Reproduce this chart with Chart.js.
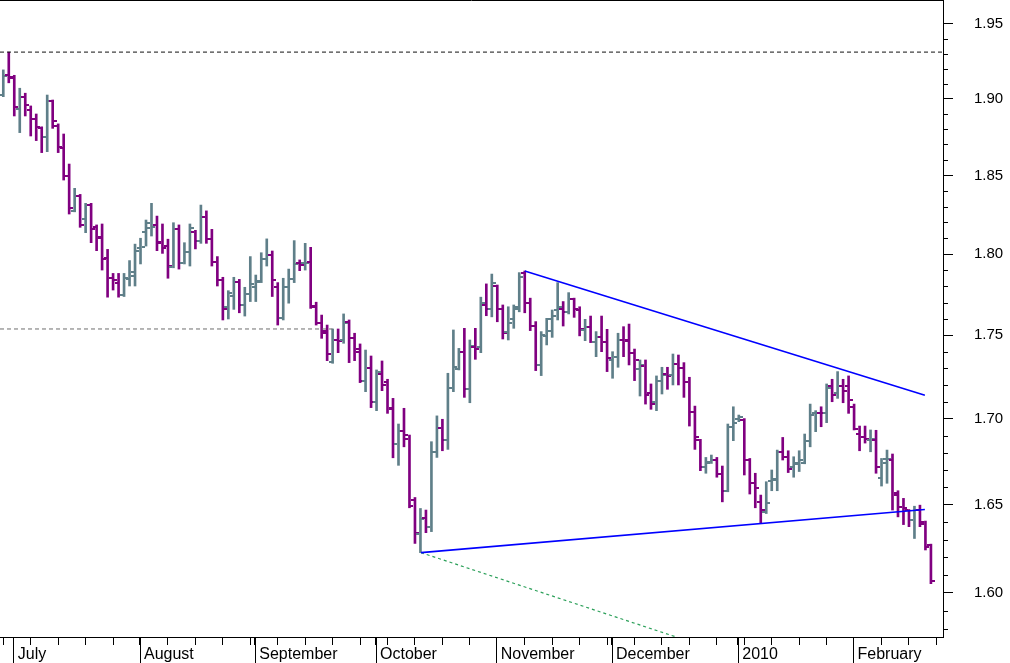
<!DOCTYPE html>
<html>
<head>
<meta charset="utf-8">
<title>OHLC</title>
<script src="https://cdn.jsdelivr.net/npm/chart.js@4.4.1/dist/chart.umd.min.js"></script>
<style>
  html, body { margin: 0; padding: 0; background: #fff; }
  canvas { display: block; }
</style>
</head>
<body>
<canvas id="grafico" width="1010" height="663"></canvas>
<script>
// Daily bars, index 0 = Mon 29 June 2009 (trading days only)
const opens = [1.9024,1.9157,1.9145,1.8930,1.9009,1.8924,1.8865,1.8810,1.8747,1.8985,
  1.8821,1.8675,1.8496,1.8274,1.8370,1.8219,1.8310,1.8169,1.8100,1.7975,
  1.7850,1.7818,1.7746,1.7843,1.7886,1.8040,1.8141,1.8163,1.8184,1.8078,
  1.8051,1.7922,1.8156,1.7947,1.8015,1.8140,1.8085,1.8236,1.8098,1.7951,
  1.7839,1.7671,1.7740,1.7826,1.7685,1.7750,1.7798,1.7835,1.7968,1.7993,
  1.7798,1.7603,1.7794,1.7843,1.7942,1.7943,1.7953,1.7681,1.7576,1.7526,
  1.7340,1.7471,1.7471,1.7578,1.7481,1.7416,1.7226,1.7304,1.7100,1.7266,
  1.7220,1.7055,1.6850,1.6925,1.6878,1.6528,1.6330,1.6425,1.6370,1.6805,
  1.6947,1.6874,1.7180,1.7294,1.7396,1.7174,1.7430,1.7426,1.7685,1.7658,
  1.7802,1.7658,1.7522,1.7597,1.7658,1.7885,1.7696,1.7556,1.7318,1.7496,
  1.7597,1.7654,1.7658,1.7643,1.7721,1.7654,1.7532,1.7548,1.7461,1.7487,
  1.7461,1.7350,1.7366,1.7471,1.7471,1.7394,1.7294,1.7314,1.7150,1.7100,
  1.7224,1.7266,1.7260,1.7326,1.7300,1.7220,1.7041,1.6874,1.6714,1.6747,
  1.6757,1.6676,1.6579,1.6952,1.6998,1.6994,1.6757,1.6622,1.6515,1.6457,
  1.6638,1.6641,1.6805,1.6776,1.6714,1.6737,1.6741,1.6870,1.7031,1.7035,
  1.7035,1.7194,1.7150,1.7194,1.7194,1.7070,1.6909,1.6889,1.6874,1.6874,
  1.6651,1.6737,1.6757,1.6564,1.6487,1.6468,1.6413,1.6471,1.6401,1.6269];
const highs = [1.9191,1.9310,1.9155,1.9069,1.9036,1.8952,1.8899,1.8815,1.9024,1.8991,
  1.8834,1.8768,1.8573,1.8417,1.8378,1.8321,1.8321,1.8184,1.8190,1.8030,
  1.7880,1.7880,1.7880,1.7960,1.8063,1.8100,1.8215,1.8321,1.8240,1.8190,
  1.8094,1.8198,1.8184,1.8072,1.8190,1.8150,1.8310,1.8273,1.8156,1.7985,
  1.7856,1.7773,1.7856,1.7843,1.7794,1.7985,1.7870,1.8009,1.8096,1.8020,
  1.7823,1.7850,1.7907,1.8085,1.7964,1.8068,1.8043,1.7702,1.7623,1.7562,
  1.7538,1.7538,1.7630,1.7593,1.7512,1.7447,1.7410,1.7374,1.7290,1.7344,
  1.7234,1.7120,1.6968,1.7061,1.6903,1.6540,1.6477,1.6468,1.6864,1.7016,
  1.6996,1.7270,1.7532,1.7420,1.7542,1.7471,1.7542,1.7733,1.7815,1.7876,
  1.7808,1.7685,1.7674,1.7685,1.7885,1.7895,1.7727,1.7583,1.7522,1.7603,
  1.7654,1.7823,1.7706,1.7761,1.7727,1.7674,1.7597,1.7617,1.7522,1.7617,
  1.7536,1.7400,1.7512,1.7552,1.7568,1.7416,1.7350,1.7350,1.7206,1.7254,
  1.7306,1.7306,1.7386,1.7380,1.7334,1.7246,1.7074,1.6878,1.6772,1.6786,
  1.6772,1.6722,1.6968,1.7070,1.7021,1.7000,1.6766,1.6680,1.6554,1.6631,
  1.6699,1.6815,1.6889,1.6811,1.6776,1.6811,1.6909,1.7086,1.7047,1.7070,
  1.7206,1.7234,1.7280,1.7234,1.7254,1.7086,1.6956,1.6956,1.6933,1.6931,
  1.6766,1.6815,1.6792,1.6579,1.6535,1.6471,1.6490,1.6496,1.6405,1.6274];
const lows = [1.9013,1.9105,1.8886,1.8777,1.8886,1.8755,1.8725,1.8647,1.8653,1.8805,
  1.8647,1.8470,1.8253,1.8267,1.8169,1.8135,1.8072,1.8022,1.7901,1.7733,
  1.7777,1.7733,1.7737,1.7802,1.7802,1.7939,1.8051,1.8114,1.8022,1.8005,
  1.7850,1.7915,1.7907,1.7939,1.7926,1.8033,1.8068,1.8068,1.7926,1.7802,
  1.7593,1.7599,1.7658,1.7637,1.7617,1.7706,1.7706,1.7823,1.7926,1.7737,
  1.7562,1.7593,1.7696,1.7823,1.7897,1.7901,1.7664,1.7562,1.7481,1.7346,
  1.7330,1.7394,1.7451,1.7334,1.7346,1.7214,1.7160,1.7065,1.7047,1.7166,
  1.7031,1.6770,1.6726,1.6834,1.6481,1.6278,1.6226,1.6339,1.6345,1.6772,
  1.6811,1.6819,1.7160,1.7290,1.7126,1.7094,1.7354,1.7394,1.7619,1.7612,
  1.7582,1.7477,1.7471,1.7542,1.7643,1.7637,1.7528,1.7286,1.7256,1.7441,
  1.7487,1.7593,1.7556,1.7630,1.7609,1.7496,1.7467,1.7455,1.7370,1.7400,
  1.7280,1.7240,1.7306,1.7370,1.7320,1.7226,1.7134,1.7086,1.7055,1.7047,
  1.7146,1.7174,1.7200,1.7200,1.7126,1.6956,1.6819,1.6695,1.6680,1.6737,
  1.6657,1.6515,1.6573,1.6870,1.6982,1.6670,1.6560,1.6481,1.6391,1.6448,
  1.6579,1.6579,1.6757,1.6684,1.6657,1.6690,1.6735,1.6834,1.6923,1.6952,
  1.6976,1.7100,1.7120,1.7094,1.7031,1.6933,1.6811,1.6856,1.6805,1.6680,
  1.6606,1.6622,1.6468,1.6429,1.6385,1.6373,1.6306,1.6373,1.6241,1.6052];
const closes = [1.9151,1.9135,1.8943,1.9009,1.8956,1.8869,1.8812,1.8747,1.8985,1.8854,
  1.8686,1.8496,1.8289,1.8368,1.8184,1.8310,1.8156,1.8110,1.7970,1.7850,
  1.7839,1.7746,1.7850,1.7864,1.8017,1.8046,1.8198,1.8169,1.8072,1.8037,
  1.7926,1.8156,1.7943,1.8015,1.8163,1.8085,1.8236,1.8094,1.7951,1.7839,
  1.7660,1.7756,1.7826,1.7685,1.7750,1.7815,1.7829,1.7968,1.7993,1.7839,
  1.7603,1.7794,1.7845,1.7939,1.7935,1.7947,1.7674,1.7576,1.7516,1.7384,
  1.7471,1.7465,1.7572,1.7481,1.7396,1.7226,1.7304,1.7100,1.7276,1.7198,
  1.7061,1.6850,1.6925,1.6901,1.6490,1.6335,1.6415,1.6373,1.6805,1.6947,
  1.6874,1.7180,1.7310,1.7396,1.7174,1.7436,1.7416,1.7696,1.7658,1.7823,
  1.7658,1.7512,1.7576,1.7674,1.7856,1.7696,1.7556,1.7318,1.7502,1.7528,
  1.7617,1.7674,1.7643,1.7721,1.7658,1.7536,1.7548,1.7461,1.7487,1.7461,
  1.7360,1.7366,1.7471,1.7465,1.7394,1.7350,1.7320,1.7140,1.7086,1.7224,
  1.7260,1.7254,1.7326,1.7300,1.7220,1.7041,1.6893,1.6714,1.6741,1.6757,
  1.6676,1.6579,1.6952,1.6972,1.7008,1.6757,1.6622,1.6593,1.6468,1.6509,
  1.6645,1.6805,1.6776,1.6703,1.6733,1.6757,1.6870,1.7021,1.7035,1.7031,
  1.7180,1.7140,1.7194,1.7166,1.7110,1.6937,1.6893,1.6878,1.6878,1.6714,
  1.6760,1.6760,1.6554,1.6483,1.6477,1.6413,1.6468,1.6391,1.6260,1.6066];

// axis labels
const monthStarts = [2, 25, 46, 68, 90, 111, 134, 155];
const monthLabels = ["July", "August", "September", "October", "November", "December", "2010", "February"];
const weekTicks = [0,5,10,15,20,30,35,40,45,50,55,60,65,70,75,80,85,95,100,105,110,115,120,125,130,135,140,145,150,160,165,170];
const priceTicks = [1.60, 1.65, 1.70, 1.75, 1.80, 1.85, 1.90, 1.95];

// drawn lines (x = bar index, y = price)
const upperTrend = [{x: 95, y: 1.7895}, {x: 167.9, y: 1.7138}];
const lowerTrend = [{x: 76.1, y: 1.6226}, {x: 167.9, y: 1.6471}];
const fanLine = [{x: 76.1, y: 1.6226}, {x: 122.6, y: 1.5757}];
const topLevel = 1.931;
const supportLevel = 1.7538;
const supportEnd = 60;

const xMin = -0.6, xMax = 171.2;
const yMin = 1.5757, yMax = 1.9663;

const PURPLE = "#800080";
const GREY = "#5f7f89";
const FONT = "'Liberation Sans', Arial, sans-serif";

// month separator sits just left of the month's first bar
const monthTickValues = monthStarts.map(i => i - 0.18);
const allTicks = weekTicks.concat(monthTickValues).sort((a, b) => a - b);

function upBar(i) { return closes[i] >= opens[i]; }

// open (left) and close (right) ticks of every bar
const ohlcTicks = {
  id: "ohlcTicks",
  afterDatasetDraw(chart, args) {
    if (args.meta.type !== "bar") return;
    const ctx = chart.ctx;
    const y = chart.scales.y;
    ctx.save();
    args.meta.data.forEach((bar, i) => {
      ctx.fillStyle = upBar(i) ? GREY : PURPLE;
      const bx = Math.round(bar.x);
      const yo = Math.round(y.getPixelForValue(opens[i]));
      const yc = Math.round(y.getPixelForValue(closes[i]));
      ctx.fillRect(bx - 4, yo - 1, 3, 2);
      ctx.fillRect(bx + 1, yc - 1, 3, 2);
    });
    ctx.restore();
  }
};

// frame top, minor price ticks, long month separators
const decor = {
  id: "decor",
  afterDraw(chart) {
    const {ctx, chartArea, scales} = chart;
    ctx.save();
    ctx.strokeStyle = "#000";
    ctx.lineWidth = 1;
    ctx.beginPath();
    ctx.moveTo(chartArea.left, chartArea.top + 0.5);
    ctx.lineTo(chartArea.right, chartArea.top + 0.5);
    for (let k = 158; k <= 195; k++) {
      if (k % 5 === 0) continue;
      const py = Math.round(scales.y.getPixelForValue(k / 100)) + 0.5;
      ctx.moveTo(scales.y.left, py);
      ctx.lineTo(scales.y.left + 5, py);
    }
    monthTickValues.forEach(v => {
      const px = Math.round(scales.x.getPixelForValue(v)) + 0.5;
      ctx.moveTo(px, scales.x.top);
      ctx.lineTo(px, chart.height);
    });
    ctx.stroke();
    ctx.restore();
  }
};

function lineSet(data, color, width, dash) {
  return {
    type: "line", data: data, borderColor: color, borderWidth: width,
    borderDash: dash || [], pointRadius: 0, fill: false, order: 0
  };
}

const chart = new Chart(document.getElementById("grafico").getContext("2d"), {
  type: "bar",
  data: {
    datasets: [
      lineSet([{x: xMin, y: topLevel}, {x: xMax, y: topLevel}], "#111", 1, [4, 3]),
      lineSet([{x: xMin, y: supportLevel}, {x: supportEnd, y: supportLevel}], "#6e6e6e", 1, [4, 3]),
      lineSet(upperTrend, "#0000ff", 1.6),
      lineSet(lowerTrend, "#0000ff", 1.6),
      lineSet(fanLine, "#2ca05a", 1.2, [3, 3]),
      {
        type: "bar",
        data: lows.map((l, i) => ({x: i, y: [l, highs[i]]})),
        backgroundColor: ctx => upBar(ctx.dataIndex) ? GREY : PURPLE,
        borderWidth: 0,
        barThickness: 2,
        order: 1
      }
    ]
  },
  options: {
    responsive: false,
    animation: false,
    layout: { padding: 0 },
    plugins: { legend: { display: false }, tooltip: { enabled: false } },
    scales: {
      x: {
        type: "linear", min: xMin, max: xMax, offset: false,
        afterBuildTicks: s => { s.ticks = allTicks.map(v => ({value: v})); },
        afterFit: s => { s.height = 26; s.paddingLeft = 0; s.paddingRight = 0; },
        grid: { drawOnChartArea: false, tickLength: 8, color: "#000", offset: false },
        border: { display: true, color: "#000", width: 1 },
        ticks: {
          autoSkip: false, maxRotation: 0, minRotation: 0, align: "start", padding: 0,
          color: "#000", font: { family: FONT, size: 16 },
          callback: v => {
            const k = monthTickValues.indexOf(v);
            return k >= 0 ? " " + monthLabels[k] : "";
          }
        }
      },
      y: {
        type: "logarithmic", position: "right", min: yMin, max: yMax,
        afterBuildTicks: s => { s.ticks = priceTicks.map(v => ({value: v})); },
        afterFit: s => { s.width = 67; s.paddingTop = 0; s.paddingBottom = 0; },
        grid: { drawOnChartArea: false, tickLength: 10, color: "#000" },
        border: { display: true, color: "#000", width: 1 },
        ticks: {
          autoSkip: false, padding: 21, color: "#000",
          font: { family: FONT, size: 15 },
          callback: v => Number(v).toFixed(2)
        }
      }
    }
  },
  plugins: [ohlcTicks, decor]
});
</script>
</body>
</html>
